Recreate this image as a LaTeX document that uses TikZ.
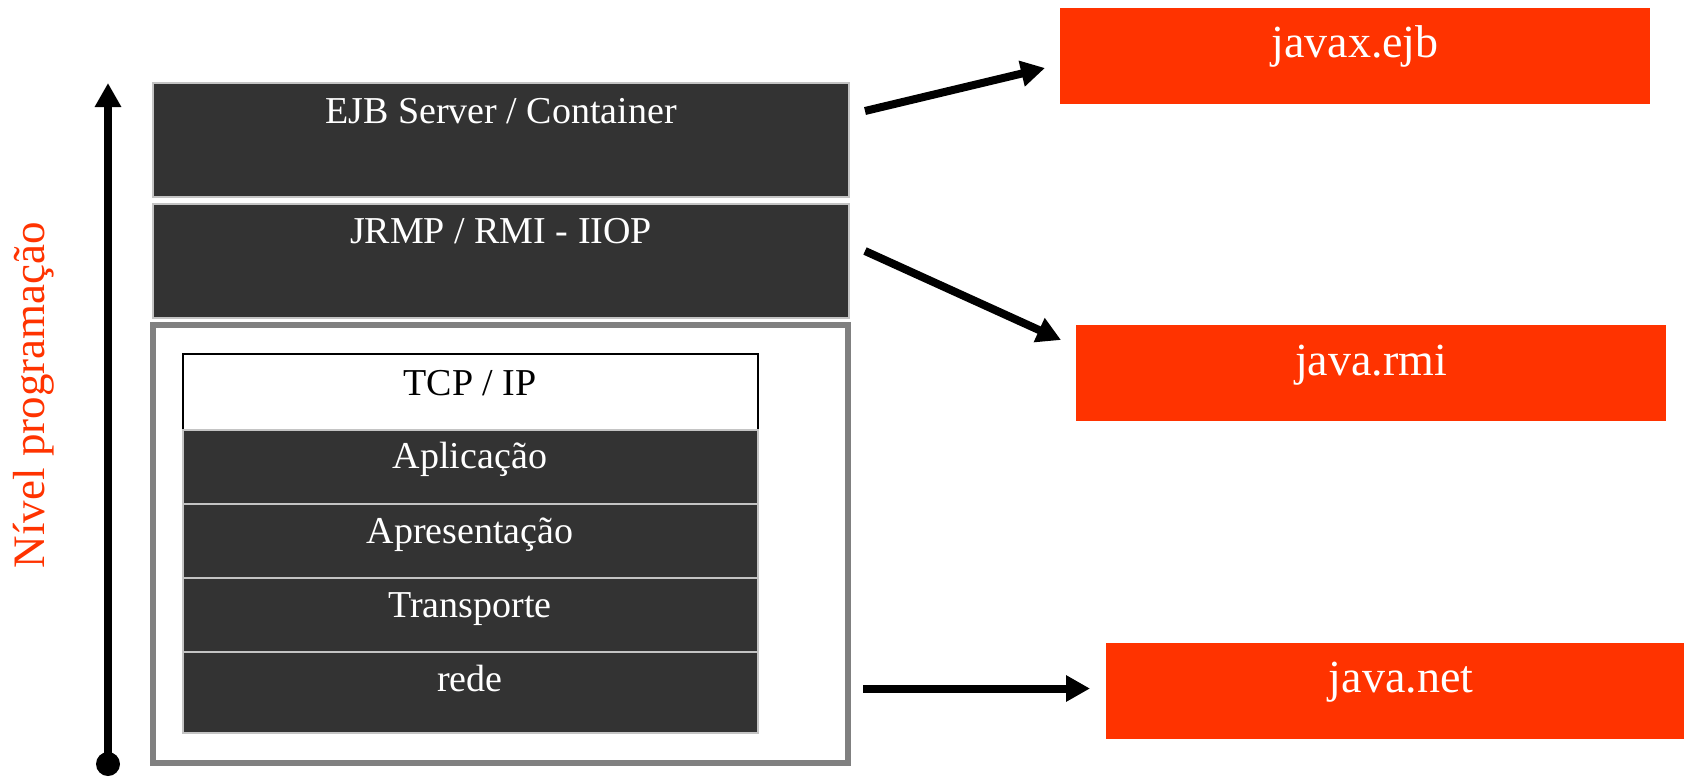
\documentclass[tikz,border=0pt]{standalone}
\usepackage{fontspec}
\setmainfont{Liberation Serif}
\usetikzlibrary{arrows.meta,fit}
\definecolor{layer}{HTML}{333333}
\definecolor{pkg}{HTML}{FF3300}
\definecolor{edge}{HTML}{C4C4C4}
\definecolor{framegray}{HTML}{808080}

\begin{document}
\begin{tikzpicture}[x=0.5pt,y=-0.5pt,
  box/.style={inner sep=0pt, outer sep=0pt},
  darkbox/.style={box, fill=layer, draw=edge, line width=1pt},
  pkgbox/.style={box, fill=pkg},
  wtext/.style={text=white, font=\fontsize{19}{21}\selectfont, anchor=base, inner sep=0pt},
  ptext/.style={text=white, font=\fontsize{23}{25}\selectfont, anchor=base, inner sep=0pt},
  conn/.style={line width=4pt, -{Triangle[length=12pt,width=12.5pt]}},
  dot/.style={circle, fill=black, minimum size=12pt, inner sep=0pt}]

\useasboundingbox (0,0) rectangle (1684,776);
\clip (0,0) rectangle (1684,776);

% upper layers
\node[darkbox, fit={(153,83) (849,197)}] (ejb) {};
\node[wtext] (ejbt) at (501,123) {EJB Server / Container};
\node[darkbox, fit={(153,204) (849,318)}] (jrmp) {};
\node[wtext] (jrmpt) at (501,243) {JRMP / RMI - IIOP};

% network frame with the TCP/IP stack
\node[box, draw=framegray, line width=3pt, fit={(153,325) (848,763)}] (net) {};
\node[box, draw=black, line width=0.8pt, fill=white, fit={(183,354) (758,430)}] (tcp) {};
\node[wtext, text=black] (tcpt) at (470,395) {TCP / IP};
\node[darkbox, fit={(183,430) (758,504)}] (apl) {};
\node[wtext] (aplt) at (470,468) {Aplicação};
\node[darkbox, fit={(183,504) (758,578)}] (apr) {};
\node[wtext] (aprt) at (470,543) {Apresentação};
\node[darkbox, fit={(183,578) (758,652)}] (trn) {};
\node[wtext] (trnt) at (470,617) {Transporte};
\node[darkbox, fit={(183,652) (758,733)}] (rede) {};
\node[wtext] (redet) at (470,691) {rede};

% java packages
\node[pkgbox, fit={(1060,8) (1650,104)}] (ejbpkg) {};
\node[ptext] (ejbpkgt) at (1355,57) {javax.ejb};
\node[pkgbox, fit={(1076,325) (1666,421)}] (rmipkg) {};
\node[ptext] (rmipkgt) at (1371,375) {java.rmi};
\node[pkgbox, fit={(1106,643) (1696,739)}] (netpkg) {};
\node[ptext] (netpkgt) at (1401,692) {java.net};

% level axis
\node[dot] (axisbase) at (108,764) {};
\coordinate (axistop) at (108,83);
\draw[conn] (axisbase.center) -- (axistop);
\node[rotate=90, anchor=base, text=pkg, inner sep=0pt,
      font=\fontsize{22.5}{24}\selectfont] (level) at (44,395) {Nível programação};

% mappings to packages
\draw[conn] ([shift={(16,28)}]ejb.north east) -- ([shift={(-15,60)}]ejbpkg.north west);
\draw[conn] ([shift={(16,47)}]jrmp.north east) -- ([shift={(-15,15)}]rmipkg.north west);
\coordinate (netfrom) at ([shift={(105,-4)}]rede.east);
\draw[conn] (netfrom) -- ([xshift=-8pt]netpkg.west |- netfrom);
\end{tikzpicture}
\end{document}
